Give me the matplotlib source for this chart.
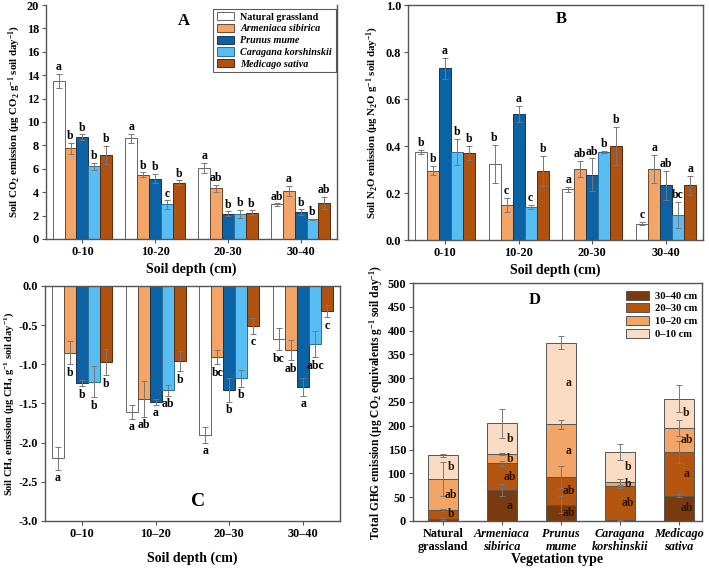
import numpy as np
import matplotlib
matplotlib.use('Agg')
import matplotlib.pyplot as plt

plt.rcParams['font.family'] = ['Liberation Serif', 'DejaVu Serif']
plt.rcParams['font.weight'] = 'bold'
plt.rcParams['axes.labelweight'] = 'bold'
plt.rcParams['mathtext.fontset'] = 'custom'
plt.rcParams['mathtext.rm'] = 'Liberation Serif:bold'
plt.rcParams['mathtext.it'] = 'Liberation Serif:italic:bold'
plt.rcParams['mathtext.bf'] = 'Liberation Serif:bold'

# categories
depths_ab = ['0-10', '10-20', '20-30', '30-40']
depths_c = ['0\u201310', '10\u201320', '20\u201330', '30\u201340']
veg = ['Natural grassland', 'Armeniaca sibirica', 'Prunus mume',
       'Caragana korshinskii', 'Medicago sativa']
veg_ticks = ['Natural\ngrassland', 'Armeniaca\nsibirica', 'Prunus\nmume',
             'Caragana\nkorshinskii', 'Medicago\nsativa']

# A: CO2 (rows = vegetation, cols = depth)
co2_mean = [[13.5, 8.6, 6.05, 2.95],
            [7.75, 5.5, 4.35, 4.1],
            [8.7, 5.15, 2.15, 2.3],
            [6.2, 2.95, 2.15, 1.7],
            [7.2, 4.8, 2.25, 3.1]]
co2_err = [[0.6, 0.4, 0.45, 0.1],
           [0.45, 0.2, 0.3, 0.45],
           [0.25, 0.4, 0.2, 0.25],
           [0.3, 0.35, 0.35, 0.05],
           [0.75, 0.2, 0.2, 0.5]]
co2_let = [['a', 'a', 'a', 'ab'],
           ['b', 'b', 'ab', 'a'],
           ['b', 'b', 'b', 'b'],
           ['b', 'c', 'b', 'b'],
           ['b', 'b', 'b', 'ab']]

# B: N2O
n2o_mean = [[0.375, 0.323, 0.215, 0.07],
            [0.295, 0.15, 0.302, 0.302],
            [0.73, 0.537, 0.277, 0.232],
            [0.375, 0.14, 0.375, 0.105],
            [0.372, 0.293, 0.40, 0.232]]
n2o_err = [[0.01, 0.08, 0.01, 0.005],
           [0.02, 0.03, 0.035, 0.06],
           [0.045, 0.035, 0.07, 0.06],
           [0.055, 0.01, 0.005, 0.055],
           [0.03, 0.065, 0.08, 0.04]]
n2o_let = [['b', 'b', 'a', 'c'],
           ['b', 'c', 'ab', 'a'],
           ['a', 'a', 'ab', 'ab'],
           ['b', 'c', 'b', 'bc'],
           ['b', 'b', 'b', 'a']]

# C: CH4
ch4_mean = [[-2.2, -1.61, -1.9, -0.68],
            [-0.85, -1.44, -0.91, -0.82],
            [-1.24, -1.48, -1.33, -1.29],
            [-1.22, -1.33, -1.18, -0.74],
            [-0.97, -0.96, -0.51, -0.32]]
ch4_err = [[0.15, 0.09, 0.1, 0.14],
           [0.15, 0.23, 0.09, 0.13],
           [0.04, 0.04, 0.15, 0.11],
           [0.2, 0.07, 0.11, 0.17],
           [0.17, 0.13, 0.1, 0.08]]
ch4_let = [['a', 'a', 'a', 'bc'],
           ['b', 'ab', 'bc', 'ab'],
           ['b', 'a', 'b', 'a'],
           ['b', 'ab', 'b', 'abc'],
           ['b', 'b', 'c', 'c']]

# D: total GHG, stacked segments per vegetation type (bottom -> top)
ghg_labels = ['30\u201340 cm', '20\u201330 cm', '10\u201320 cm', '0\u201310 cm']
ghg_3040 = [5, 65, 34, 2, 53]
ghg_2030 = [18, 56, 58, 71, 91]
ghg_1020 = [65, 19, 111, 8, 52]
ghg_010 = [50, 65, 172, 64, 61]
err_3040 = [2, 13, 18, 1, 3]
err_2030 = [3, 6, 23, 3, 23]
err_1020 = [36, 2, 10, 7, 17]
err_010 = [3, 30, 13, 16, 29]
let_3040 = ['', 'a', 'ab', '', 'ab']
let_2030 = ['b', 'ab', 'ab', 'ab', 'a']
let_1020 = ['ab', 'b', 'a', 'b', 'ab']
let_010 = ['b', 'b', 'a', 'b', 'b']

veg_colors = ['white', '#F2A566', '#0B63A6', '#58BDF3', '#B0520F']
veg_edges = ['#666666', '#6b4a30', '#1d3550', '#2f6f95', '#5a2a08']
ghg_colors = ['#7A3A10', '#B4560F', '#F3A567', '#FADBC3']

spine_c = '#555555'
err_kw = dict(ecolor='#777777', elinewidth=0.7, capsize=2.5, capthick=0.7)

fig = plt.figure(figsize=(7.09, 5.69), dpi=100)
axA = fig.add_axes([0.0649, 0.580, 0.4104, 0.4112])
axB = fig.add_axes([0.5755, 0.5782, 0.4160, 0.4130])
axC = fig.add_axes([0.0635, 0.0844, 0.4160, 0.4130])
axD = fig.add_axes([0.5825, 0.0844, 0.4075, 0.4182])

w = 0.163
x = np.arange(4)


def grouped(ax, mean, err, letters, pad, below=False):
    for i in range(5):
        xs = x + (i - 2) * w
        ax.bar(xs, mean[i], w, color=veg_colors[i], edgecolor=veg_edges[i],
               linewidth=0.7, label=veg[i], zorder=2)
        ax.errorbar(xs, mean[i], yerr=err[i], fmt='none', zorder=3, **err_kw)
        for j in range(4):
            if below:
                ax.text(xs[j], mean[i][j] - err[i][j] - pad, letters[i][j],
                        ha='center', va='top', fontsize=8.5)
            else:
                ax.text(xs[j], mean[i][j] + err[i][j] + pad, letters[i][j],
                        ha='center', va='bottom', fontsize=8.5)
    ax.set_xlim(-0.5, 3.5)
    ax.set_xticks(x)


def style(ax):
    for s in ax.spines.values():
        s.set_color(spine_c)
        s.set_linewidth(1.0)
    ax.tick_params(direction='out', length=3, width=0.8, color=spine_c,
                   labelsize=8.8, pad=2)


# A
grouped(axA, co2_mean, co2_err, co2_let, 0.05)
axA.set_ylim(0, 20)
axA.set_yticks(np.arange(0, 21, 2))
axA.set_xticklabels(depths_ab)
axA.set_xlabel('Soil depth (cm)', fontsize=10, labelpad=3)
axA.set_ylabel('Soil CO$_2$ emission (\u03bcg CO$_2$ g$^{-1}$ soil day$^{-1}$)',
               fontsize=7.8, labelpad=3)
axA.text(0.475, 0.93, 'A', transform=axA.transAxes, fontsize=12,
         ha='center', va='center')
style(axA)
axA.spines['top'].set_visible(False)
leg = axA.legend(loc='upper right', bbox_to_anchor=(0.995, 0.985),
                 borderaxespad=0, fontsize=7.3, fancybox=False,
                 handlelength=1.7, handleheight=0.85, labelspacing=0.22,
                 borderpad=0.35, handletextpad=0.6)
leg.get_frame().set_edgecolor('#333333')
leg.get_frame().set_linewidth(0.8)
for k, t in enumerate(leg.get_texts()):
    if k > 0:
        t.set_style('italic')

# B
grouped(axB, n2o_mean, n2o_err, n2o_let, 0.004)
axB.set_ylim(0, 1.0)
axB.set_yticks(np.arange(0, 1.01, 0.2))
axB.set_yticklabels(['%.1f' % v for v in np.arange(0, 1.01, 0.2)])
axB.set_xticklabels(depths_ab)
axB.set_xlabel('Soil depth (cm)', fontsize=10, labelpad=3)
axB.set_ylabel('Soil N$_2$O emission (\u03bcg N$_2$O g$^{-1}$ soil day$^{-1}$)',
               fontsize=7.8, labelpad=3)
axB.text(0.52, 0.94, 'B', transform=axB.transAxes, fontsize=12,
         ha='center', va='center')
style(axB)

# C
grouped(axC, ch4_mean, ch4_err, ch4_let, 0.03, below=True)
axC.set_ylim(-3.0, 0.0)
axC.set_yticks(np.arange(-3.0, 0.01, 0.5))
axC.set_yticklabels(['%.1f' % v if v < 0 else '0.0'
                     for v in np.arange(-3.0, 0.01, 0.5)])
axC.set_xticklabels(depths_c)
axC.set_xlabel('Soil depth (cm)', fontsize=10, labelpad=8)
axC.set_ylabel('Soil CH$_4$ emission (\u03bcg CH$_4$ g$^{-1}$ soil day$^{-1}$)',
               fontsize=7.5, labelpad=1.5)
axC.text(0.52, 0.085, 'C', transform=axC.transAxes, fontsize=14,
         ha='center', va='center')
style(axC)

# D
segs = [ghg_3040, ghg_2030, ghg_1020, ghg_010]
errs = [err_3040, err_2030, err_1020, err_010]
lets = [let_3040, let_2030, let_1020, let_010]
xd = np.arange(5)
bottom = np.zeros(5)
for k in range(4):
    vals = np.array(segs[k], dtype=float)
    axD.bar(xd, vals, 0.52, bottom=bottom, color=ghg_colors[k],
            edgecolor='#555555', linewidth=0.7, label=ghg_labels[k], zorder=2)
    top = bottom + vals
    axD.errorbar(xd, top, yerr=errs[k], fmt='none', zorder=3, **err_kw)
    for i in range(5):
        axD.text(xd[i] + 0.13, bottom[i] + vals[i] / 2, lets[k][i],
                 ha='center', va='center', fontsize=8.5, color='#2a1400',
                 zorder=4)
    bottom = top
axD.set_xlim(-0.51, 4.39)
axD.set_ylim(0, 500)
axD.set_yticks(np.arange(0, 501, 50))
axD.set_xticks(xd)
axD.set_xticklabels(veg_ticks, fontsize=8.5, linespacing=1.1)
for k, t in enumerate(axD.get_xticklabels()):
    if k > 0:
        t.set_style('italic')
axD.set_xlabel('Vegetation type', fontsize=10, labelpad=0)
axD.set_ylabel('Total GHG emission (\u03bcg CO$_2$ equivalents g$^{-1}$ soil day$^{-1}$)',
               fontsize=8.3, labelpad=2)
axD.text(0.42, 0.93, 'D', transform=axD.transAxes, fontsize=12,
         ha='center', va='center')
style(axD)
axD.tick_params(axis='x', pad=2)
h, l = axD.get_legend_handles_labels()
legD = axD.legend(h, l, loc='upper right', bbox_to_anchor=(1.0, 0.985),
                  borderaxespad=0, frameon=False, fontsize=7.6,
                  handlelength=2.2, handleheight=0.9, labelspacing=0.25,
                  handletextpad=0.6)

fig.savefig('out.png', dpi=100)
